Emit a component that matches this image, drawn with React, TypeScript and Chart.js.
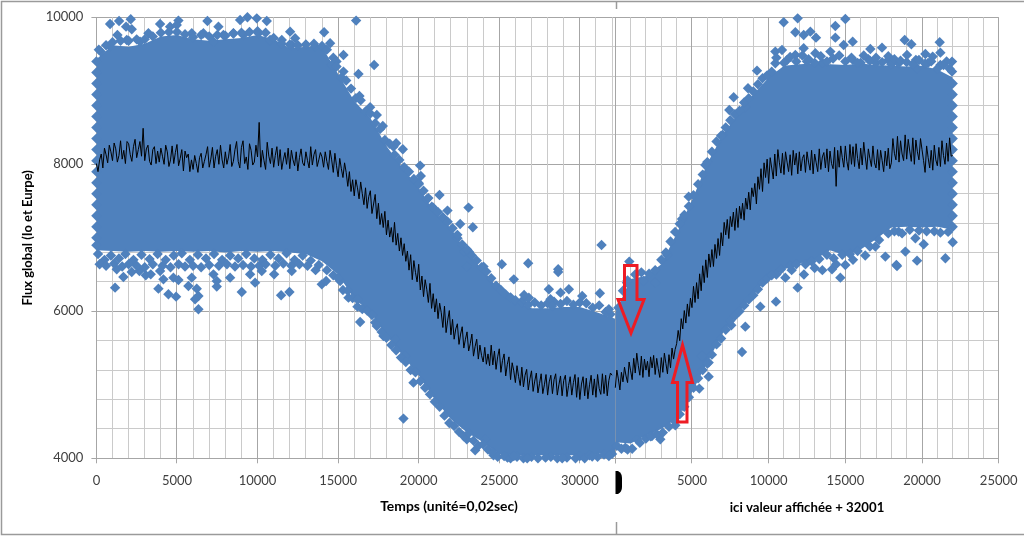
import React, { useEffect, useRef } from "react";
import { Chart, registerables } from "chart.js";

Chart.register(...registerables);

// ---- Band outline (solid part of the measurement cloud) ----
const bandLeftX = [0,1000,2000,3000,4000,5000,6000,7000,8000,9000,10000,11000,12000,13000,14000,15000,16000,17000,18000,19000,20000,21000,22000,23000,24000,25000,26000,27000,28000,29000,30000,31000,32200];
const bandLeftUpper = [9430,9620,9600,9640,9740,9760,9700,9680,9700,9720,9760,9700,9580,9600,9600,9230,8860,8630,8250,7950,7680,7340,7130,6790,6560,6290,6130,6040,6040,6060,6060,5990,5900];
const bandLeftLower = [6830,6820,6810,6820,6810,6820,6810,6820,6800,6820,6810,6820,6800,6780,6680,6500,6170,5990,5680,5400,5130,4800,4530,4350,4220,4060,4040,4040,4040,4040,4040,4060,4080];
const bandRightX = [0,1000,2000,3000,4000,5000,6000,7000,8000,9000,10000,11000,12000,13000,14000,15000,16000,17000,18000,19000,20000,21000,22000];
const bandRightUpper = [5980,6440,6480,6640,7060,7510,8010,8400,8680,8950,9180,9340,9360,9370,9360,9350,9370,9350,9340,9330,9340,9290,9180];
const bandRightLower = [4220,4200,4310,4400,4540,4900,5300,5700,5980,6220,6480,6570,6650,6700,6830,6760,6840,6980,7140,7150,7140,7150,7110];

// ---- Individual measurements visible outside the solid band ----
const pointsLeft: [number, number][] = [
[848,9909],[1407,9950],[2131,9973],[1841,9873],[2193,9837],[1303,9760],[269,9533],[848,9601],[1883,9692],[2710,9669],[3228,9782],[3952,9909],[4572,9873],[5090,9955],[4986,9896],[5917,9782],[6890,9950],[7573,9873],[6641,9782],[7262,9669],[7883,9760],[8504,9782],[8917,9964],[9373,10000],[9952,9986],[10572,9950],[9124,9760],[10055,9782],[10780,9692],[11504,9692],[12021,9805],[12331,9714],[12124,9624],[14131,9796],[13573,9601],[14504,9646],[15331,9488],[16117,9955],[17235,9351],[15331,9261],[16262,9229],[16324,8930],[16986,8776],[17400,8671],[17773,8522],[18600,8286],[19014,8204],[18435,8240],[20090,7982],[20131,7841],[20007,7742],[21290,7583],[20504,7524],[20814,7424],[21786,7370],[23090,7411],[22573,7188],[23359,7143],[22408,6993],[22821,6812],[25159,6640],[24021,6608],[22987,6608],[23130,6806],
[150,9560],[600,9620],[1000,9660],[1500,9680],[2000,9680],[2500,9700],[3000,9700],[3500,9740],[4000,9790],[4500,9800],[5000,9800],[5500,9770],[6000,9730],[6500,9760],[7000,9740],[7500,9760],[8000,9750],[8500,9780],[9000,9790],[9500,9800],[10000,9810],[10500,9790],[11000,9720],[11500,9640],[12000,9630],[12500,9620],[13000,9630],[13500,9640],[14000,9610],[14300,9560],[14700,9450],[14900,9400],
[1159,6322],[1676,6467],[1262,6571],[2193,6535],[2669,6549],[3062,6490],[3373,6503],[3952,6549],[4159,6435],[3848,6308],[4469,6231],[4945,6199],[4779,6458],[5090,6426],[5917,6458],[5710,6345],[6228,6308],[6331,6209],[6124,6163],[6331,6027],[7262,6503],[7469,6413],[7469,6336],[8297,6458],[9021,6263],[9538,6503],[9848,6390],[10262,6549],[11028,6503],[11462,6218],[11979,6263],[12124,6549],[13986,6367],[14255,6413],[15124,6413],[15641,6186],[16200,6063],[16366,5855],[17297,5846],[17814,5664],[18538,5619],[19159,5392],[19676,5029],[19055,4540],[22987,4258],[23504,4109],[24125,4258],[24642,4041],[25511,4009],
[100,6780],[500,6700],[900,6760],[1400,6720],[1800,6780],[2300,6700],[2800,6770],[3300,6710],[3800,6780],[4300,6700],[4800,6760],[5300,6790],[5800,6700],[6300,6770],[6800,6720],[7300,6780],[7800,6700],[8300,6760],[8800,6720],[9300,6780],[9800,6720],[10300,6700],[10800,6770],[11300,6720],[11800,6790],[12300,6700],[12800,6760],[13300,6690],[13800,6630],[14300,6560],
[200,6640],[600,6620],[1100,6650],[1600,6610],[2000,6640],[2500,6620],[3000,6600],[3500,6640],[4100,6620],[4600,6600],[5100,6640],[5500,6610],[6000,6620],[6500,6600],[7000,6630],[7600,6620],[8100,6640],[8600,6610],[9100,6630],[9600,6610],[10100,6620],[10500,6640],[11100,6620],[11600,6650],[12100,6620],[12600,6640],[13100,6620],[13600,6560],
[14600,9350],[14900,9330],[15200,9180],[15500,9140],[15800,9030],[16100,8900],[16400,8870],[16700,8720],[17000,8690],[17300,8560],[17600,8480],[17900,8330],[18200,8280],[18500,8130],[18800,8060],[19100,7960],[19400,7900],[19700,7800],[20000,7730],[20300,7640],[20600,7540],[20900,7410],[21200,7350],[21500,7280],[21800,7220],[22100,7130],[22400,7040],[22700,6910],[23000,6840],[23300,6760],[23600,6690],[23900,6600],[24200,6540],[24500,6450],[24800,6350],[25100,6290],[25400,6230],[25700,6190],[26000,6150],[26400,6120],[26800,6090],[27200,6120],[27600,6080],[28000,6110],[28400,6130],[28800,6100],[29200,6140],[29600,6090],[30000,6120],[30400,6110],[30800,6050],[31200,6080],[31600,5990],[31900,5960],
[14700,6490],[15000,6450],[15300,6290],[15600,6280],[15900,6180],[16200,6160],[16500,6030],[16800,6010],[17100,5950],[17400,5800],[17700,5720],[18000,5640],[18300,5540],[18600,5470],[18900,5370],[19200,5310],[19500,5200],[19800,5170],[20100,5050],[20400,4960],[20700,4870],[21000,4770],[21300,4700],[21600,4580],[21900,4480],[22200,4440],[22500,4360],[22800,4300],[23100,4340],[23400,4240],[23700,4170],[24000,4190],[24300,4120],[24600,4080],[24900,4020],[25300,4030],[25700,4000],[26100,4020],[26500,4000],[27000,4020],[27400,4000],[28200,4020],[28600,4000],[29200,4010],[30000,4030],[30300,4000],[30600,4040],[31100,4020],[31500,4050],[32000,4060],
[26525,6163],[26835,6186],[28077,6299],[28180,6163],[28801,6254],[29318,6299],[28283,6073],[30146,6209],[31242,6245],[31801,6027],[25903,6435],[28656,6535],[26794,6653],[31346,6903],[28656,6572],[26541,6221],
[26732,4000],[27870,4009],[28905,4000],[29732,4000],[30767,4023],[31801,4032],[25903,4032],
[0,9400],[0,9250],[0,9100],[0,8950],[0,8800],[0,8650],[0,8500],[0,8350],[0,8200],[0,8050],[0,7900],[0,7750],[0,7600],[0,7450],[0,7300],[0,7150],[0,7000],[0,6900],
];
const pointsRight: [number, number][] = [
[913,6676],[1848,6413],[2609,6390],[761,6390],
[652,4145],[1413,4258],[2391,4304],[2935,4258],[3913,4449],[4348,4712],[5478,4948],[6087,5111],[6087,5302],[5652,5392],[8261,5447],[7565,5809],[8478,5791],[9456,6063],[10478,6131],[11891,6322],[14674,6458],[14130,6571],[11087,6458],[18370,6617],
[17609,6744],[18327,6630],[19675,6689],[18914,6812],[20110,6912],[21523,6721],[22001,6939],[19566,6993],[18479,7084],[14239,6721],[16957,6880],
[10500,6500],[11500,6560],[12300,6500],[13000,6590],[13500,6560],[14400,6640],[15000,6630],[15500,6700],[16300,6760],
[10979,9932],[11892,9986],[15001,9977],[14348,9882],[11740,9796],[12283,9760],[12718,9805],[13087,9723],[14348,9723],[9240,9274],[8653,9034],[7718,8912],[7435,8739],[8479,8776],[7000,8399],[5870,7991],[4783,7560],[4348,7256],[3370,6767],[18870,9692],[19305,9633],[21153,9660],[21197,9519],[20218,9501],[20696,9465],[17392,9587],[16631,9569],[15479,9669],[14892,9624],[10435,9533],[10870,9556],[12283,9578],[21957,9397],[21957,9261],[21197,9351],[19675,9306],[18479,9374],[19022,9488],[14022,9533],[13044,9510],[11740,9488],[10435,9374],
[12500,9400],[13500,9380],[15500,9420],[16000,9380],[16500,9430],[17000,9380],[17800,9420],[18000,9360],[19600,9420],[20400,9380],[21600,9400],[11200,9420],
[200,6050],[500,6280],[800,6420],[1300,6500],[1700,6530],[2200,6510],[2600,6560],[3000,6700],[3300,6800],[3600,6950],[3900,7080],[4200,7190],[4500,7310],[4800,7430],[5100,7580],[5400,7730],[5700,7860],[6000,8030],[6300,8170],[6600,8310],[6900,8390],[7200,8500],[7500,8600],[7800,8680],[8100,8730],[8400,8840],[8700,8900],[9000,8990],[9300,9090],[9600,9170],[9900,9210],[10200,9260],
[10500,9450],[11000,9380],[11400,9460],[11800,9400],[12200,9480],[12600,9430],[13000,9380],[13400,9470],[13800,9400],[14200,9440],[14600,9480],[15000,9400],[15400,9450],[15800,9380],[16200,9480],[16600,9410],[17000,9450],[17400,9390],[17800,9470],[18200,9430],[18600,9410],[19000,9390],[19400,9360],[19800,9420],[20200,9370],[20600,9400],[21000,9300],[21400,9350],[21800,9300],
[100,4170],[400,4130],[800,4120],[1100,4130],[1600,4210],[2000,4270],[2300,4300],[2700,4330],[3100,4350],[3500,4430],[3900,4500],[4200,4600],[4500,4700],[4800,4830],[5100,4960],[5400,5090],[5700,5200],[6000,5290],[6300,5410],[6600,5550],[6900,5630],[7200,5750],[7500,5870],[7800,5940],[8100,6000],[8400,6080],[8700,6160],[9000,6220],[9300,6300],[9600,6390],[9900,6450],[10200,6490],
[10800,6570],[11400,6620],[11800,6640],[12400,6640],[12800,6680],[13300,6710],[13800,6770],[14800,6770],[15300,6780],[15800,6820],[16600,6880],[17200,6970],[17800,7060],[18200,7090],[18700,7060],[19200,7110],[19800,7100],[20300,7090],[20800,7090],[21200,7070],[21700,7080],
[22000,9100],[22000,8950],[22000,8800],[22000,8650],[22000,8500],[22000,8350],[22000,8200],[22000,8050],[22000,7900],[22000,7750],[22000,7600],[22000,7450],[22000,7300],[22000,7150],
];

// ---- Running mean (black trace), one reading every 100 time units; a row is 2000 units ----
const traceStep = 100;
const traceLeft = [
8010,7900,8060,8140,7950,8220,8130,8020,8260,8170,8050,8290,8210,8030,8120,8320,8070,8190,8010,8310,
8280,8130,8040,8240,8340,8090,8200,8310,8110,8490,8050,8210,8260,8040,7990,8200,8240,8010,8180,8030,
8220,8110,8000,8260,8170,7970,8060,8250,8010,8160,8270,7980,8080,8200,7910,8180,8090,8140,7900,8060,
7930,8120,8010,7890,8090,8150,7950,8040,8130,8240,7960,8070,8230,7950,8110,8200,8000,8260,8060,7950,
8170,8000,8100,8270,7970,8040,8200,8310,8040,7950,8230,8320,8010,8100,7930,8280,8190,7990,8030,8260,
8100,8570,7960,8190,8050,7930,8300,8110,8010,8220,7960,8120,8240,7980,8200,7930,8060,8160,8000,8220,
7940,8190,8060,7980,8170,7910,8090,8210,8020,7980,8170,8050,7950,8240,7990,8130,8200,7970,8060,8160,
8100,7960,8170,8040,7930,8190,8060,7890,8150,7980,7830,8080,7940,7820,8020,7890,7700,7900,7630,7790,
7570,7790,7680,7530,7760,7600,7450,7680,7400,7560,7640,7330,7460,7590,7260,7470,7180,7330,7140,7360,
7040,7240,7010,7140,6940,7210,6900,7060,6820,7000,6760,6920,6680,6820,6560,6770,6430,6690,6530,6400,
6640,6290,6480,6200,6430,6300,6120,6380,6040,6240,5990,6170,5900,6110,5980,5780,6070,5710,5880,6010,
5680,5890,5620,5760,5830,5550,5690,5790,5500,5620,5720,5460,5560,5690,5390,5520,5620,5350,5540,5400,
5310,5510,5280,5420,5260,5540,5270,5460,5210,5380,5490,5170,5330,5420,5120,5280,5380,5070,5300,5190,
5030,5260,5110,4990,5240,4970,5130,5210,4930,5080,5190,4910,5050,5160,4890,5020,5150,4880,5000,5140,
4860,5040,5130,4880,5070,5150,4860,5000,5120,4850,5060,5130,4840,4990,5110,4860,5030,5140,4830,5100,
4800,5010,5110,4850,5090,4810,5000,5130,4860,5080,4830,5140,4950,4870,5150,4880,5130,4850,5060,5160,
5130,
];
const traceRight = [
4960,5200,5080,4930,5170,5040,5240,5120,5030,5310,5190,5070,5360,5160,5430,5260,5130,5390,5100,5350,
5200,5320,5110,5380,5230,5400,5140,5360,5220,5100,5370,5170,5430,5290,5150,5410,5230,5500,5350,5480,
5560,5740,5600,5900,5760,6010,5840,6100,5930,6180,6050,6340,6120,6390,6170,6510,6280,6620,6390,6700,
6460,6780,6600,6840,6610,6910,6720,6990,6760,7070,6890,7210,7040,7250,6990,7290,7150,7350,7100,7400,
7140,7430,7260,7470,7240,7540,7390,7620,7380,7680,7560,7740,7460,7830,7660,7940,7630,8020,7820,8070,
7740,8090,7950,7800,8140,7840,8200,8020,7880,8150,7860,8170,8030,7900,8130,7850,8190,7990,8150,7870,
8170,7910,8080,8130,7890,8170,8030,7920,8190,7870,8140,8020,7900,8210,7930,8100,8160,7950,8210,7900,
8180,8010,7940,8230,7700,8190,7960,8250,8090,7960,8250,8040,7920,8270,8000,8240,7970,8280,8080,7940,
8220,7990,8300,8100,7930,8210,8080,7970,8250,8020,7950,8200,7920,8190,8050,7900,8180,7980,8220,7940,
8020,8350,8150,8060,8380,8030,8320,8140,8050,8400,8070,8340,8180,8040,8360,8000,8330,8170,8060,8350,
8200,8050,7890,8250,8090,7950,8190,7920,8260,8060,7980,8230,7970,8320,8120,8000,8290,8040,8360,8110,
8120,
];

const xLeftTicks = [0,1000,2000,3000,4000,5000,6000,7000,8000,9000,10000,11000,12000,13000,14000,15000,16000,17000,18000,19000,20000,21000,22000,23000,24000,25000,26000,27000,28000,29000,30000,31000,32000,32200];
const xRightTicks = [0,1000,2000,3000,4000,5000,6000,7000,8000,9000,10000,11000,12000,13000,14000,15000,16000,17000,18000,19000,20000,21000,22000,23000,24000,25000];

const xMajor = 5000;
const yMajor = 2000;
const BLUE = "#4F81BD";
const MAJOR_GRID = "#a6a6a6";
const MINOR_GRID = "#cacaca";
const FONT = "Lato";

const toXY = (pts: [number, number][]) => pts.map(([x, y]) => ({ x, y }));
const zip = (xs: number[], ys: number[]) => xs.map((x, i) => ({ x, y: ys[i] }));
const trace = (vals: number[]) => vals.map((y, i) => ({ x: i * traceStep, y }));

const decorations = {
  id: "decorations",
  afterDraw(chart: any) {
    const c = chart.ctx as CanvasRenderingContext2D;
    c.save();
    // picture frame
    c.strokeStyle = "#9a9a9a";
    c.lineWidth = 1.5;
    c.beginPath();
    c.moveTo(1024, 1.5); c.lineTo(1.5, 1.5); c.lineTo(1.5, 534.5); c.lineTo(1024, 534.5);
    c.moveTo(616.5, 1.5); c.lineTo(616.5, 9);
    c.moveTo(616.5, 522); c.lineTo(616.5, 534.5);
    c.stroke();
    // red arrows
    c.strokeStyle = "#ED1C24";
    c.lineWidth = 3;
    c.lineJoin = "miter";
    c.beginPath();
    c.moveTo(624.5, 265.5); c.lineTo(637, 265.5); c.lineTo(637, 299.5); c.lineTo(644, 299.5);
    c.lineTo(631, 333); c.lineTo(618, 299.5); c.lineTo(624.5, 299.5); c.closePath();
    c.stroke();
    c.beginPath();
    c.moveTo(682.5, 345); c.lineTo(692.5, 382.5); c.lineTo(687, 382.5); c.lineTo(687, 422);
    c.lineTo(677.5, 422); c.lineTo(677.5, 382.5); c.lineTo(672.5, 382.5); c.closePath();
    c.stroke();
    // the black blot hiding the restart "0"
    c.fillStyle = "#000";
    c.beginPath();
    c.moveTo(615.5, 471); c.lineTo(618, 471);
    c.quadraticCurveTo(622, 473, 622, 478); c.lineTo(622, 487);
    c.quadraticCurveTo(622, 492, 618, 494); c.lineTo(615.5, 494); c.closePath();
    c.fill();
    // left-hand axis title
    c.fillStyle = "#000";
    c.font = `bold 13.9px ${FONT}`;
    c.textAlign = "center";
    c.textBaseline = "middle";
    c.fillText("Temps (unité=0,02sec)", 449, 507);
    c.restore();
  },
};

const isMajor = (v: number, major: number, end?: number) => v % major === 0 || v === end;
const gridFor = (major: number, end?: number) => ({
  color: (ctx: any) => (ctx.tick && isMajor(ctx.tick.value, major, end) ? MAJOR_GRID : MINOR_GRID),
  tickColor: (ctx: any) => (ctx.tick && isMajor(ctx.tick.value, major, end) ? MAJOR_GRID : "rgba(0,0,0,0)"),
  tickLength: 5,
  lineWidth: 1,
});
const label = (major: number, hideZero = false) => (v: any) =>
  Number(v) % major === 0 && !(hideZero && Number(v) === 0) ? String(v) : "";
const tickFont = { family: FONT, size: 13 };
const tickColor = "#404040";
const fitX = (s: any) => { s.height = 77.7; s.paddingLeft = 0; s.paddingRight = 0; };

export default function App() {
  const ref = useRef<HTMLCanvasElement>(null);
  useEffect(() => {
    if (!ref.current) return;
    const band = { showLine: true, pointRadius: 0, borderWidth: 0, backgroundColor: BLUE, borderColor: BLUE, order: 3, clip: false };
    const cloud = { showLine: false, pointStyle: "rectRot", pointRadius: 5.2, pointBorderWidth: 0, pointBackgroundColor: BLUE, backgroundColor: BLUE, order: 2, clip: false };
    const line = { showLine: true, pointRadius: 0, borderWidth: 1, borderColor: "#000", order: 1, clip: false };
    const chart = new Chart(ref.current, {
      type: "scatter",
      data: {
        datasets: [
          { ...band, label: "bande haut 1", xAxisID: "x", data: zip(bandLeftX, bandLeftUpper), fill: "+1" },
          { ...band, label: "bande bas 1", xAxisID: "x", data: zip(bandLeftX, bandLeftLower), fill: false },
          { ...band, label: "bande haut 2", xAxisID: "x2", data: zip(bandRightX, bandRightUpper), fill: "+1" },
          { ...band, label: "bande bas 2", xAxisID: "x2", data: zip(bandRightX, bandRightLower), fill: false },
          { ...cloud, label: "Flux 1", xAxisID: "x", data: toXY(pointsLeft) },
          { ...cloud, label: "Flux 2", xAxisID: "x2", data: toXY(pointsRight) },
          { ...line, label: "Moyenne 1", xAxisID: "x", data: trace(traceLeft) },
          { ...line, label: "Moyenne 2", xAxisID: "x2", data: trace(traceRight) },
        ] as any,
      },
      options: {
        animation: false,
        responsive: false,
        devicePixelRatio: 1,
        layout: { padding: { left: 0, top: 17.3, right: 25.3, bottom: 0 } },
        plugins: { legend: { display: false }, tooltip: { enabled: false } },
        scales: {
          y: {
            type: "linear", min: 4000, max: 10000,
            afterFit: (s: any) => { s.width = 96.4; },
            ticks: { stepSize: 400, autoSkip: false, padding: 8, color: tickColor, font: tickFont, callback: label(yMajor) },
            grid: gridFor(yMajor),
            border: { color: MAJOR_GRID },
            title: { display: true, text: "Flux global (Io et Eurpe)", color: "#000", font: { family: FONT, size: 13, weight: "bold" }, padding: { top: 20, bottom: 0 } },
          },
          x: {
            type: "linear", position: "bottom", stack: "temps", stackWeight: 518.9, min: 0, max: 32200,
            afterFit: fitX,
            afterBuildTicks: (s: any) => { s.ticks = xLeftTicks.map((value) => ({ value })); },
            ticks: { autoSkip: false, maxRotation: 0, padding: 10, color: tickColor, font: tickFont, callback: label(xMajor) },
            grid: gridFor(xMajor, 32200),
            border: { color: MAJOR_GRID },
          },
          x2: {
            type: "linear", position: "bottom", stack: "temps", stackWeight: 383.4, min: 0, max: 25000,
            afterFit: fitX,
            afterBuildTicks: (s: any) => { s.ticks = xRightTicks.map((value) => ({ value })); },
            ticks: { autoSkip: false, maxRotation: 0, padding: 10, color: tickColor, font: tickFont, callback: label(xMajor, true) },
            grid: gridFor(xMajor),
            border: { color: MAJOR_GRID },
            title: { display: true, text: "ici valeur affichée + 32001", color: "#000", font: { family: FONT, size: 13.2, weight: "bold" }, padding: { top: 0, bottom: 20 } },
          },
        },
      } as any,
      plugins: [decorations],
    });
    return () => chart.destroy();
  }, []);
  return <canvas ref={ref} width={1024} height={536} style={{ position: "absolute", left: 0, top: 0 }} />;
}
